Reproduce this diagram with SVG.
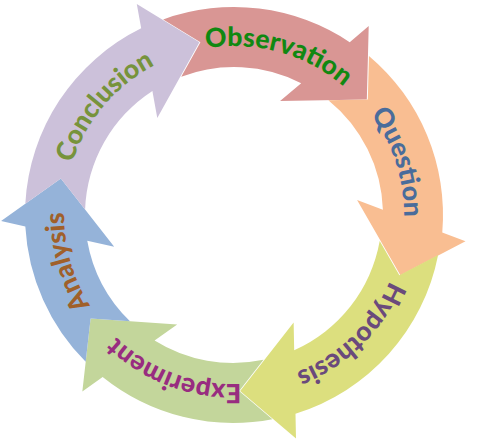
<svg xmlns="http://www.w3.org/2000/svg" width="478" height="443" viewBox="0 0 478 443">
<style>
.lbl{font-family:Lato,"Open Sans","Liberation Sans",sans-serif;font-weight:900;font-size:26.5px;text-anchor:middle}
</style>
<defs>
<path id="tpObs" d="M -168.68 10.32 A 169 169 0 0 1 75.41 -151.24"/>
<path id="tpQue" d="M -167.36 23.52 A 169 169 0 0 1 63.31 -156.69"/>
<path id="tpHyp" d="M -165.12 36.00 A 169 169 0 0 1 51.38 -161.00"/>
<path id="tpAna" d="M -168.86 -6.78 A 169 169 0 0 1 90.31 -142.85"/>
<path id="tpCon" d="M -167.01 25.86 A 169 169 0 0 1 61.11 -157.56"/>
</defs>
<rect width="478" height="443" fill="#ffffff"/>
<g id="connectors"></g>
<g id="observation" transform="translate(234 215) rotate(49)">
<path fill="#d99694" d="M -194.07 -74.85 A 208 208 0 0 1 -54.52 -200.73 L -54.16 -225.59 L 0 -176 L -55.84 -109.59 L -55.44 -137.22 A 148 148 0 0 0 -138.97 -50.91 L -152.42 -88.0 Z"/>
<text class="lbl" fill="#118811"><textPath href="#tpObs" startOffset="50%">Observation</textPath></text>
</g>
<g id="question" transform="translate(235 215) rotate(110)">
<path fill="#f9be92" d="M -195.34 -71.45 A 208 208 0 0 1 -54.52 -200.73 L -54.16 -225.59 L 0 -176 L -55.84 -109.59 L -55.44 -137.22 A 148 148 0 0 0 -139.84 -48.48 L -153.93 -85.33 Z"/>
<text class="lbl" fill="#4a6c9b"><textPath href="#tpQue" startOffset="50%">Question</textPath></text>
</g>
<g id="hypothesis" transform="translate(234 215) rotate(178)">
<path fill="#dcdf7e" d="M -202.60 -47.11 A 208 208 0 0 1 -54.52 -200.73 L -54.16 -225.59 L 0 -176 L -55.84 -109.59 L -55.44 -137.22 A 148 148 0 0 0 -144.70 -31.08 L -163.18 -65.93 Z"/>
<text class="lbl" fill="#6a4a7c"><textPath href="#tpHyp" startOffset="50%">Hypothesis</textPath></text>
</g>
<g id="experiment" transform="translate(233 215) rotate(234)">
<path fill="#c3d69b" d="M -188.38 -88.20 A 208 208 0 0 1 -54.52 -200.73 L -54.16 -225.59 L 0 -176 L -55.84 -109.59 L -55.44 -137.22 A 148 148 0 0 0 -135.08 -60.48 L -145.91 -98.42 Z"/>
<text class="lbl" fill="#982c80"><textPath href="#tpObs" startOffset="50%">Experiment</textPath></text>
</g>
<g id="analysis" transform="translate(233 215) rotate(282)">
<path fill="#95b3d9" d="M -174.26 -113.56 A 208 208 0 0 1 -54.52 -200.73 L -54.16 -225.59 L 0 -176 L -55.84 -109.59 L -55.44 -137.22 A 148 148 0 0 0 -125.35 -78.69 L -130.79 -117.77 Z"/>
<text class="lbl" fill="#a0602a"><textPath href="#tpAna" startOffset="50%">Analysis</textPath></text>
</g>
<g id="conclusion" transform="translate(233 215) rotate(349)">
<path fill="#ccc1da" d="M -201.74 -50.64 A 208 208 0 0 1 -54.52 -200.73 L -54.16 -225.59 L 0 -176 L -55.84 -109.59 L -55.44 -137.22 A 148 148 0 0 0 -144.14 -33.59 L -162.01 -68.77 Z"/>
<text class="lbl" fill="#77933c"><textPath href="#tpCon" startOffset="50%">Conclusion</textPath></text>
</g>
</svg>
